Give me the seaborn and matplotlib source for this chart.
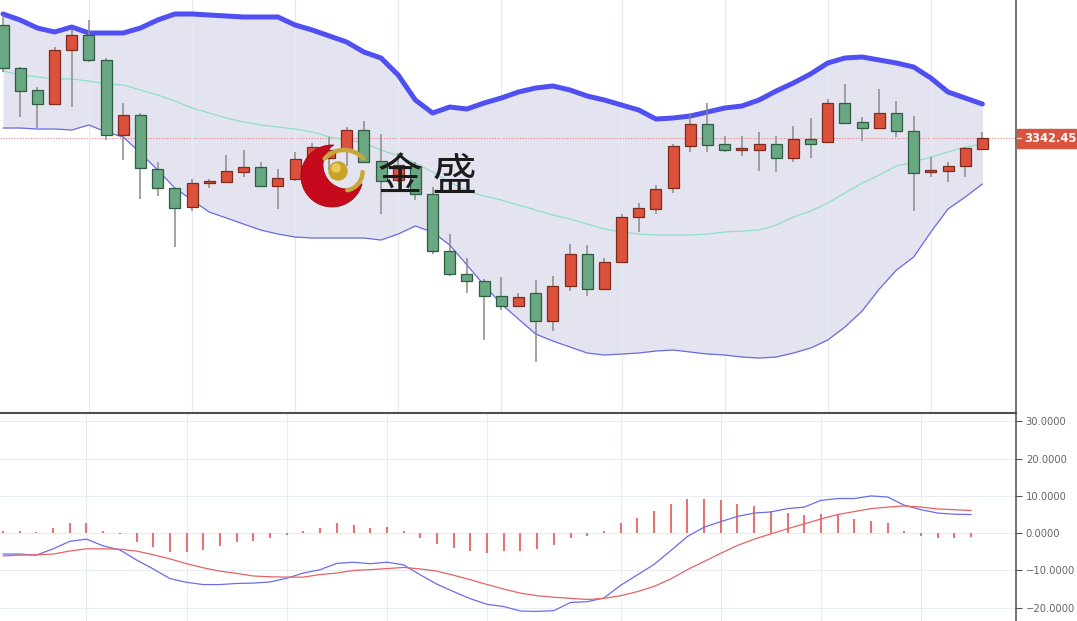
import numpy as np
import pandas as pd
import seaborn as sns
import matplotlib.pyplot as plt
import matplotlib.transforms as mtransforms
from matplotlib.patches import Circle, Polygon, Rectangle
from matplotlib.lines import Line2D
from matplotlib.ticker import FuncFormatter

# hourly candles, red = up, green = down
opens = [3370.75, 3360.0, 3354.5, 3351.0, 3364.5, 3368.25, 3362.0, 3343.25, 3348.25, 3334.75,
         3330.0, 3325.25, 3331.25, 3331.5, 3334.0, 3335.25, 3330.5, 3332.25, 3336.25, 3337.5,
         3339.5, 3344.5, 3336.75, 3332.0, 3335.5, 3328.5, 3314.25, 3308.5, 3306.75, 3303.0,
         3300.5, 3303.75, 3296.75, 3305.5, 3313.5, 3304.75, 3311.5, 3322.75, 3324.75, 3330.0,
         3340.5, 3346.0, 3341.0, 3339.5, 3339.5, 3341.0, 3337.5, 3342.25, 3341.5, 3351.25,
         3346.5, 3345.0, 3348.75, 3344.25, 3334.0, 3334.25, 3335.5, 3339.75]
closes = [3360.0, 3354.25, 3351.0, 3364.5, 3368.25, 3362.0, 3343.25, 3348.25, 3335.0, 3330.0,
          3325.0, 3331.25, 3331.75, 3334.25, 3335.25, 3330.5, 3332.5, 3337.25, 3340.25, 3339.5,
          3344.5, 3336.5, 3331.75, 3335.75, 3328.5, 3314.25, 3308.5, 3306.75, 3303.0, 3300.5,
          3302.75, 3296.75, 3305.5, 3313.5, 3304.75, 3311.5, 3322.75, 3325.0, 3329.75, 3340.5,
          3346.0, 3340.75, 3339.5, 3339.75, 3341.0, 3337.5, 3342.25, 3341.0, 3351.25, 3346.25,
          3345.0, 3348.75, 3344.25, 3333.75, 3334.5, 3335.5, 3340.0, 3342.45]
highs = [3373.25, 3360.25, 3355.25, 3365.25, 3369.5, 3372.0, 3362.5, 3351.25, 3348.75, 3336.5,
         3330.0, 3332.25, 3332.25, 3338.25, 3339.5, 3336.5, 3334.75, 3339.0, 3341.25, 3342.75,
         3345.25, 3346.75, 3343.5, 3338.75, 3336.5, 3330.25, 3318.5, 3312.5, 3307.25, 3307.75,
         3303.75, 3307.0, 3308.0, 3316.0, 3315.75, 3312.5, 3323.5, 3326.25, 3330.75, 3341.0,
         3348.75, 3351.25, 3343.0, 3343.0, 3344.0, 3343.0, 3345.5, 3347.5, 3352.25, 3356.0,
         3347.75, 3354.75, 3351.75, 3348.0, 3337.75, 3336.5, 3340.25, 3344.0]
lows = [3359.0, 3347.75, 3345.0, 3351.0, 3350.25, 3361.5, 3342.0, 3337.0, 3327.25, 3328.0,
        3315.25, 3324.25, 3330.0, 3331.5, 3332.75, 3330.25, 3324.75, 3331.75, 3335.75, 3334.5,
        3335.5, 3336.25, 3323.5, 3331.5, 3327.0, 3313.5, 3308.0, 3303.75, 3292.0, 3299.5,
        3300.5, 3286.5, 3294.25, 3304.25, 3303.0, 3304.75, 3311.5, 3319.0, 3323.5, 3328.75,
        3339.0, 3339.0, 3339.0, 3338.0, 3334.25, 3334.0, 3336.5, 3337.5, 3341.5, 3346.0,
        3341.75, 3345.0, 3342.75, 3324.25, 3332.75, 3331.5, 3332.75, 3339.75]

# Bollinger bands
boll_upper = [3373.5, 3372.0, 3370.0, 3369.0, 3370.25, 3368.75, 3368.75, 3368.75, 3370.0, 3372.0,
              3373.5, 3373.5, 3373.25, 3373.0, 3372.75, 3372.75, 3372.75, 3370.75, 3369.5, 3368.0,
              3366.5, 3364.0, 3362.5, 3358.25, 3352.0, 3348.75, 3350.25, 3349.75, 3351.25, 3352.5,
              3354.0, 3355.0, 3355.5, 3354.5, 3353.0, 3352.0, 3350.75, 3349.5, 3347.25, 3347.5,
              3348.0, 3349.0, 3350.0, 3350.5, 3352.0, 3354.25, 3356.25, 3358.5, 3361.25, 3362.5,
              3362.75, 3362.0, 3361.25, 3360.25, 3357.5, 3354.0, 3352.5, 3351.0]
boll_mid = [3359.25, 3358.25, 3357.75, 3357.25, 3357.25, 3356.75, 3356.0, 3355.75, 3354.5, 3353.25,
            3351.75, 3350.0, 3348.75, 3347.5, 3346.5, 3345.75, 3345.25, 3344.75, 3344.0, 3342.75,
            3342.0, 3341.25, 3339.5, 3338.0, 3336.25, 3334.0, 3331.5, 3329.25, 3328.0, 3327.0,
            3325.75, 3324.5, 3323.25, 3322.25, 3321.0, 3319.75, 3319.0, 3318.5, 3318.25, 3318.25,
            3318.25, 3318.5, 3319.0, 3319.25, 3319.5, 3320.75, 3322.75, 3324.25, 3326.25, 3328.75,
            3331.25, 3333.25, 3335.5, 3336.5, 3337.75, 3339.0, 3340.25, 3341.0]
boll_lower = [3345.0, 3345.0, 3344.75, 3344.75, 3344.5, 3345.75, 3344.0, 3342.75, 3338.75, 3334.5,
              3330.0, 3327.0, 3324.0, 3322.5, 3321.0, 3319.5, 3318.5, 3317.75, 3317.5, 3317.5,
              3317.5, 3317.5, 3317.0, 3318.5, 3320.5, 3319.0, 3315.75, 3310.75, 3305.75, 3301.0,
              3297.25, 3293.5, 3291.75, 3290.25, 3288.75, 3288.25, 3288.5, 3288.75, 3289.25, 3289.5,
              3289.0, 3288.5, 3288.25, 3287.75, 3287.5, 3287.75, 3288.75, 3290.0, 3292.0, 3295.25,
              3299.25, 3304.75, 3309.5, 3312.75, 3319.0, 3324.75, 3327.75, 3331.0]

# MACD panel
macd_dif = [-5.6, -5.6, -5.9, -4.2, -2.2, -1.6, -3.4, -4.5, -7.2, -9.6,
            -12.2, -13.2, -13.8, -13.8, -13.5, -13.4, -13.1, -12.1, -10.7, -9.8,
            -8.1, -7.8, -8.2, -7.8, -8.5, -11.2, -13.7, -15.7, -17.6, -19.1,
            -19.7, -20.9, -21.0, -20.8, -18.6, -18.4, -17.4, -14.0, -11.2, -8.4,
            -4.7, -0.9, 1.6, 3.1, 4.5, 5.4, 5.7, 6.6, 7.0, 8.8,
            9.3, 9.3, 10.0, 9.7, 7.5, 6.3, 5.4, 5.1, 5.0]
macd_dea = [-6.1, -5.9, -5.8, -5.6, -4.8, -4.2, -4.2, -4.3, -4.8, -5.8,
            -6.9, -8.2, -9.3, -10.2, -10.8, -11.5, -11.7, -11.8, -11.8, -11.1,
            -10.7, -10.0, -9.8, -9.5, -9.2, -9.6, -10.2, -11.3, -12.5, -13.8,
            -15.0, -16.1, -16.8, -17.2, -17.5, -17.8, -17.5, -16.8, -15.7, -14.3,
            -12.3, -9.8, -7.6, -5.4, -3.3, -1.6, -0.2, 1.2, 2.5, 3.8,
            5.0, 5.8, 6.6, 7.0, 7.3, 7.0, 6.5, 6.3, 6.1]
macd_hist = [0.6, 0.6, 0.3, 1.5, 2.6, 2.6, 0.6, -0.3, -2.4, -3.7,
             -5.0, -5.1, -4.4, -3.5, -2.4, -2.1, -1.4, -0.4, 0.6, 1.5,
             2.6, 2.2, 1.5, 1.7, 0.6, -1.4, -3.0, -4.1, -4.7, -5.4,
             -4.7, -4.7, -4.2, -3.3, -1.4, -0.8, 0.6, 2.6, 4.2, 5.9,
             7.8, 9.2, 9.2, 8.9, 7.8, 7.3, 6.0, 5.5, 4.8, 5.2,
             4.8, 3.9, 3.3, 2.6, 0.6, -0.7, -1.4, -1.4, -1.1]

last_price = 3342.45
price_grid = [5, 11, 17, 23, 29, 36, 42, 48, 54]
macd_grid = [5, 11, 17, 23, 29, 37, 43, 49, 55]
macd_ticks = [-20, -10, 0, 10, 20, 30]
brand = "金 盛"

sns.set_style("white")
plt.rcParams["font.family"] = ["DejaVu Sans"]

fig = plt.figure(figsize=(10.77, 6.21), dpi=100)
ax1 = fig.add_axes([0, 0.3349, 0.9434, 0.6651])
ax2 = fig.add_axes([0, 0, 0.9434, 0.3349])

df = pd.DataFrame({"open": opens, "high": highs, "low": lows, "close": closes,
                   "upper": boll_upper, "mid": boll_mid, "lower": boll_lower})
df["i"] = np.arange(len(df))

# ---- price panel ----
ax1.fill_between(df["i"], df["lower"], df["upper"], color="#e4e4f0", lw=0, zorder=1)
sns.lineplot(data=df, x="i", y="upper", ax=ax1, color="#5050f2", lw=3.6, zorder=3)
sns.lineplot(data=df, x="i", y="mid", ax=ax1, color="#8fdfc4", lw=0.9, zorder=3)
sns.lineplot(data=df, x="i", y="lower", ax=ax1, color="#6a6ae6", lw=0.9, zorder=3)

up = df["close"] >= df["open"]
body_col = np.where(up, "#dc513b", "#6aa783")
edge_col = np.where(up, "#7d2b1f", "#2f5c43")
ax1.vlines(df["i"], df["low"], df["high"], color="#8a8a8a", lw=1.1, zorder=4)
body_bot = np.minimum(df["open"], df["close"])
body_h = np.maximum((df["close"] - df["open"]).abs(), 0.4)
ax1.bar(df["i"], body_h, bottom=body_bot, width=0.64, color=body_col,
        edgecolor=edge_col, linewidth=0.9, zorder=5)

ax1.axhline(last_price, color="#e58383", lw=0.8, ls=(0, (1, 1.5)), zorder=2)

ax1.set_xlim(-0.175, 58.96)
ax1.set_ylim(3273.75, 3377)
ax1.set_xticks(price_grid)
ax1.set_yticks([])
ax1.tick_params(axis="x", length=0, labelbottom=False)
ax1.grid(axis="x", color="#e3eaf3", lw=0.8)
ax1.set_axisbelow(False)
ax1.set_xlabel("")
ax1.set_ylabel("")
for s in ["left", "top", "bottom"]:
    ax1.spines[s].set_visible(False)
ax1.spines["right"].set_color("#4a4a4a")
ax1.spines["right"].set_linewidth(1.1)

# last price tag on the right
trans = mtransforms.blended_transform_factory(ax1.transAxes, ax1.transData)
ax1.add_patch(Rectangle((1.001, last_price - 2.35), 0.07, 4.7, transform=trans,
                        color="#d9533e", clip_on=False, zorder=6))
ax1.add_line(Line2D([1.001, 1.005], [last_price, last_price], transform=trans,
                    color="#f6c9c0", lw=1, clip_on=False, zorder=7))
ax1.text(1.0085, last_price, f"{last_price:.2f}", transform=trans, ha="left",
         va="center", color="white", fontsize=8.3, fontweight="bold", clip_on=False, zorder=7)

# ---- MACD panel ----
m = pd.DataFrame({"i": np.arange(len(macd_hist)), "dif": macd_dif,
                  "dea": macd_dea, "hist": macd_hist})
ax2.vlines(m["i"], 0, m["hist"], color="#e87373", lw=1.5, zorder=2)
sns.lineplot(data=m, x="i", y="dif", ax=ax2, color="#6c6cea", lw=0.9, zorder=3)
sns.lineplot(data=m, x="i", y="dea", ax=ax2, color="#e86262", lw=0.9, zorder=3)

ax2.set_xlim(-0.18, 60.69)
ax2.set_ylim(-23.58, 32.26)
ax2.set_xticks(macd_grid)
ax2.set_yticks(macd_ticks)
ax2.grid(True, color="#e6edf5", lw=0.8)
ax2.yaxis.tick_right()
ax2.yaxis.set_major_formatter(FuncFormatter(lambda v, p: f"{v:.4f}".replace("-", "\u2212")))
ax2.tick_params(axis="y", direction="out", length=4, width=0.8, color="#555555",
                labelcolor="#666666", labelsize=7.2, pad=3)
ax2.tick_params(axis="x", length=0, labelbottom=False)
ax2.set_xlabel("")
ax2.set_ylabel("")
for s in ["left", "bottom"]:
    ax2.spines[s].set_visible(False)
ax2.spines["top"].set_color("#4f4f4f")
ax2.spines["top"].set_linewidth(1.5)
ax2.spines["right"].set_color("#4a4a4a")
ax2.spines["right"].set_linewidth(1.1)

# ---- watermark logo (pixel coordinates) ----
ov = fig.add_axes([0, 0, 1, 1], zorder=5)
ov.set_xlim(0, 1077)
ov.set_ylim(621, 0)
ov.axis("off")
ov.patch.set_alpha(0)


def crescent(c1, r1, c2, r2, npts=90):
    c1 = np.asarray(c1, float)
    c2 = np.asarray(c2, float)
    d = np.hypot(*(c2 - c1))
    phi = np.arctan2(c2[1] - c1[1], c2[0] - c1[0])
    a1 = np.arccos((r1 ** 2 + d ** 2 - r2 ** 2) / (2 * r1 * d))
    a2 = np.arccos((r2 ** 2 + d ** 2 - r1 ** 2) / (2 * r2 * d))
    t = np.linspace(phi + a1, phi + 2 * np.pi - a1, npts)
    outer = np.c_[c1[0] + r1 * np.cos(t), c1[1] + r1 * np.sin(t)]
    s = np.linspace(phi + np.pi - a2, phi + np.pi + a2, npts)
    inner = np.c_[c2[0] + r2 * np.cos(s), c2[1] + r2 * np.sin(s)]
    if np.hypot(*(inner[0] - outer[-1])) > np.hypot(*(inner[-1] - outer[-1])):
        inner = inner[::-1]
    return np.vstack([outer, inner])


ov.add_patch(Polygon(crescent((332, 176), 31, (347, 165), 24), closed=True,
                     facecolor="#c40a1c", edgecolor="#a30614", lw=0.6))
ov.add_patch(Circle((338, 171), 9, color="#c9a228"))
ov.add_patch(Circle((336, 168), 4, color="#ecd36a", alpha=0.8))
t_top = np.radians(np.linspace(222, 318, 40))
ov.plot(344 + 26 * np.cos(t_top), 176 + 26 * np.sin(t_top), color="#c8a73a",
        lw=3.2, solid_capstyle="round")
t_low = np.radians(np.linspace(0, 80, 30))
ov.plot(344 + 18.5 * np.cos(t_low), 172 + 18.5 * np.sin(t_low), color="#c8a73a",
        lw=3.2, solid_capstyle="round")
ov.text(428, 177, brand, ha="center", va="center", fontsize=32, color="#1c1c1c",
        family=["Noto Sans CJK SC", "DejaVu Sans"])

fig.savefig("out.png", dpi=100)
